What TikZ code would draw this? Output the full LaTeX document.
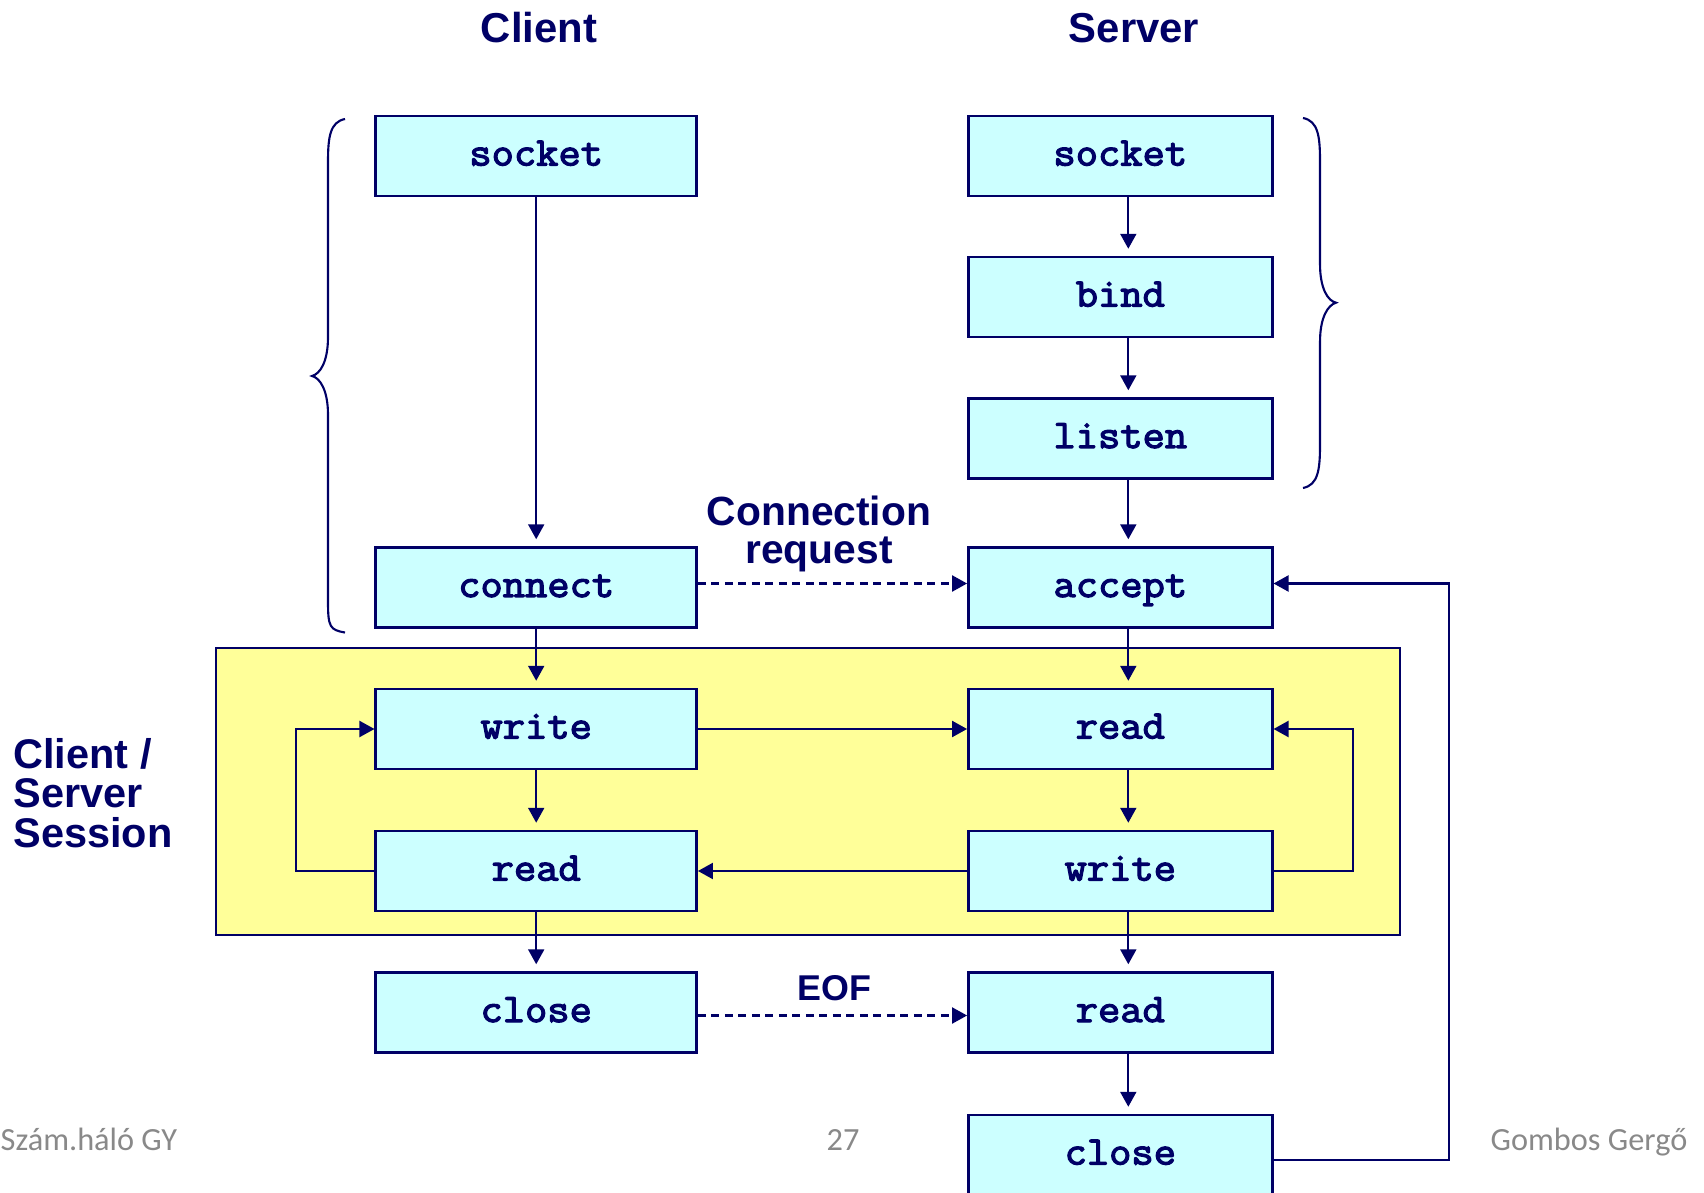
\documentclass[tikz,border=0pt]{standalone}
\usepackage{fontspec}
\usetikzlibrary{arrows.meta}

\newfontfamily\headfont{Liberation Sans}
\newfontfamily\footfont{Carlito}
\newfontfamily\callfont{Latin Modern Mono}[FakeBold=3, FakeStretch=1.07]

\definecolor{navy}{RGB}{0,0,102}
\definecolor{callfill}{RGB}{204,255,255}
\definecolor{sessionfill}{RGB}{255,255,153}
\definecolor{footgray}{RGB}{137,137,137}

\tikzset{
  call/.style={draw=navy, fill=callfill, line width=0.7pt, inner sep=0pt,
    minimum height=0.80cm, text height=0.23cm, text depth=0.04cm, text=navy,
    font=\callfont\fontsize{11.5}{12}\selectfont},
  ccall/.style={call, minimum width=3.21cm},
  scall/.style={call, minimum width=3.04cm},
  flow/.style={draw=navy, line width=0.6pt, -{Triangle[length=0.15cm,width=0.16cm]}},
  down/.style={flow, shorten >=0.07cm},
  dashflow/.style={flow, dash pattern=on 0.08cm off 0.055cm},
  heading/.style={text=navy, inner sep=0pt, font=\headfont\bfseries\fontsize{11.9}{13}\selectfont},
  note/.style={text=navy, inner sep=0pt, align=center, font=\headfont\bfseries\fontsize{11.6}{10.8}\selectfont},
  sidenote/.style={text=navy, inner sep=0pt, align=left, font=\headfont\bfseries\fontsize{11.8}{11.2}\selectfont},
  footer/.style={text=footgray, inner sep=0pt, font=\footfont\fontsize{9.2}{11}\selectfont},
  bracket/.style={draw=navy, line width=0.6pt},
}

\begin{document}
\begin{tikzpicture}
% \clip (0,0) rectangle (17.04,11.92);
\useasboundingbox (0,0) rectangle (17.040000,11.920000);

% Drawing session area
\draw [draw=navy, fill=sessionfill, line width=0.6pt] (2.160000,2.570000) rectangle (14.000000,5.440000);%

% Column headings
\node (clienthead) [heading, anchor=base] at (5.390000,11.490000) {Client};%
\node (serverhead) [heading, anchor=base] at (11.340000,11.490000) {Server};%

% Client calls
\node (csocket)  [ccall] at (5.362000,10.360000) {socket};%
\node (cconnect) [ccall] at (5.362000,6.045000) {connect};%
\node (cwrite)   [ccall] at (5.362000,4.630000) {write};%
\node (cread)    [ccall] at (5.362000,3.210000) {read};%
\node (cclose)   [ccall] at (5.362000,1.795000) {close};%

% Server calls
\node (ssocket)  [scall] at (11.203000,10.360000) {socket};%
\node (sbind)    [scall] at (11.203000,8.950000) {bind};%
\node (slisten)  [scall] at (11.203000,7.535000) {listen};%
\node (saccept)  [scall] at (11.203000,6.045000) {accept};%
\node (sread)    [scall] at (11.203000,4.630000) {read};%
\node (swrite)   [scall] at (11.203000,3.210000) {write};%
\node (sreof)    [scall] at (11.203000,1.795000) {read};%
\node (sclose)   [scall] at (11.203000,0.370000) {close};%

% Marking labels
\node (connreq) [note] at (8.190000,6.580000) {Connection\\request};%
\node (eof) [note, font=\headfont\bfseries\fontsize{10.2}{10.8}\selectfont, anchor=base] at (8.345000,1.920000) {EOF};%
\node (session) [sidenote, anchor=west] at (0.127000,3.990000) {Client /\\Server\\Session};%

% Drawing client arrows
\draw [down] (csocket.south) -- (cconnect.north);%
\draw [down] (cconnect.south) -- (cwrite.north);%
\draw [down] (cwrite.south) -- (cread.north);%
\draw [down] (cread.south) -- (cclose.north);%

% Drawing server arrows
\draw [down] ([xshift=0.08cm]ssocket.south) -- ([xshift=0.08cm]sbind.north);%
\draw [down] ([xshift=0.08cm]sbind.south) -- ([xshift=0.08cm]slisten.north);%
\draw [down] ([xshift=0.08cm]slisten.south) -- ([xshift=0.08cm]saccept.north);%
\draw [down] ([xshift=0.08cm]saccept.south) -- ([xshift=0.08cm]sread.north);%
\draw [down] ([xshift=0.08cm]sread.south) -- ([xshift=0.08cm]swrite.north);%
\draw [down] ([xshift=0.08cm]swrite.south) -- ([xshift=0.08cm]sreof.north);%
\draw [down] ([xshift=0.08cm]sreof.south) -- ([xshift=0.08cm]sclose.north);%

% Drawing messages between client and server
\draw [dashflow] ([yshift=0.04cm]cconnect.east) -- ([yshift=0.04cm]saccept.east -| saccept.west);%
\draw [flow] (cwrite.east) -- (sread.west);%
\draw [flow] (swrite.west) -- (cread.east);%
\draw [dashflow] ([yshift=-0.03cm]cclose.east) -- ([yshift=-0.03cm]sreof.west);%

% Drawing loops
\coordinate (lloop) at (2.960000,0);%
\coordinate (rloop) at (13.530000,0);%
\coordinate (oloop) at (14.490000,0);%
\draw [flow] (cread.west) -- (cread.west -| lloop) |- (cwrite.west);%
\draw [flow] (swrite.east) -- (swrite.east -| rloop) |- (sread.east);%
\coordinate (closeout) at ([yshift=-0.05cm]sclose.east);%
\coordinate (acceptin) at ([yshift=0.04cm]saccept.east);%
\draw [flow] (closeout) -- (closeout -| oloop) |- (acceptin);%

% Drawing brace left
\draw [bracket] (3.450000,10.730000) .. controls (3.300000,10.700000) and (3.280000,10.550000) .. (3.280000,10.300000)
  -- (3.280000,8.550000) .. controls (3.280000,8.300000) and (3.200000,8.180000) .. (3.120000,8.160000)
  .. controls (3.200000,8.140000) and (3.280000,8.020000) .. (3.280000,7.770000)
  -- (3.280000,5.900000) .. controls (3.280000,5.650000) and (3.300000,5.620000) .. (3.450000,5.595000);%

% Drawing brace right
\draw [bracket] (13.030000,10.740000) .. controls (13.180000,10.710000) and (13.200000,10.560000) .. (13.200000,10.310000)
  -- (13.200000,9.280000) .. controls (13.200000,9.030000) and (13.280000,8.910000) .. (13.360000,8.893000)
  .. controls (13.280000,8.870000) and (13.200000,8.750000) .. (13.200000,8.500000)
  -- (13.200000,7.470000) .. controls (13.200000,7.220000) and (13.180000,7.070000) .. (13.030000,7.040000);%

% Footer
\node (footleft) [footer, anchor=base west] at (0.000000,0.420000) {Szám.háló GY};%
\node (footpage) [footer, anchor=base] at (8.430000,0.420000) {27};%
\node (footright) [footer, anchor=base east] at (16.880000,0.420000) {Gombos Gergő};%
\end{tikzpicture}
\end{document}
